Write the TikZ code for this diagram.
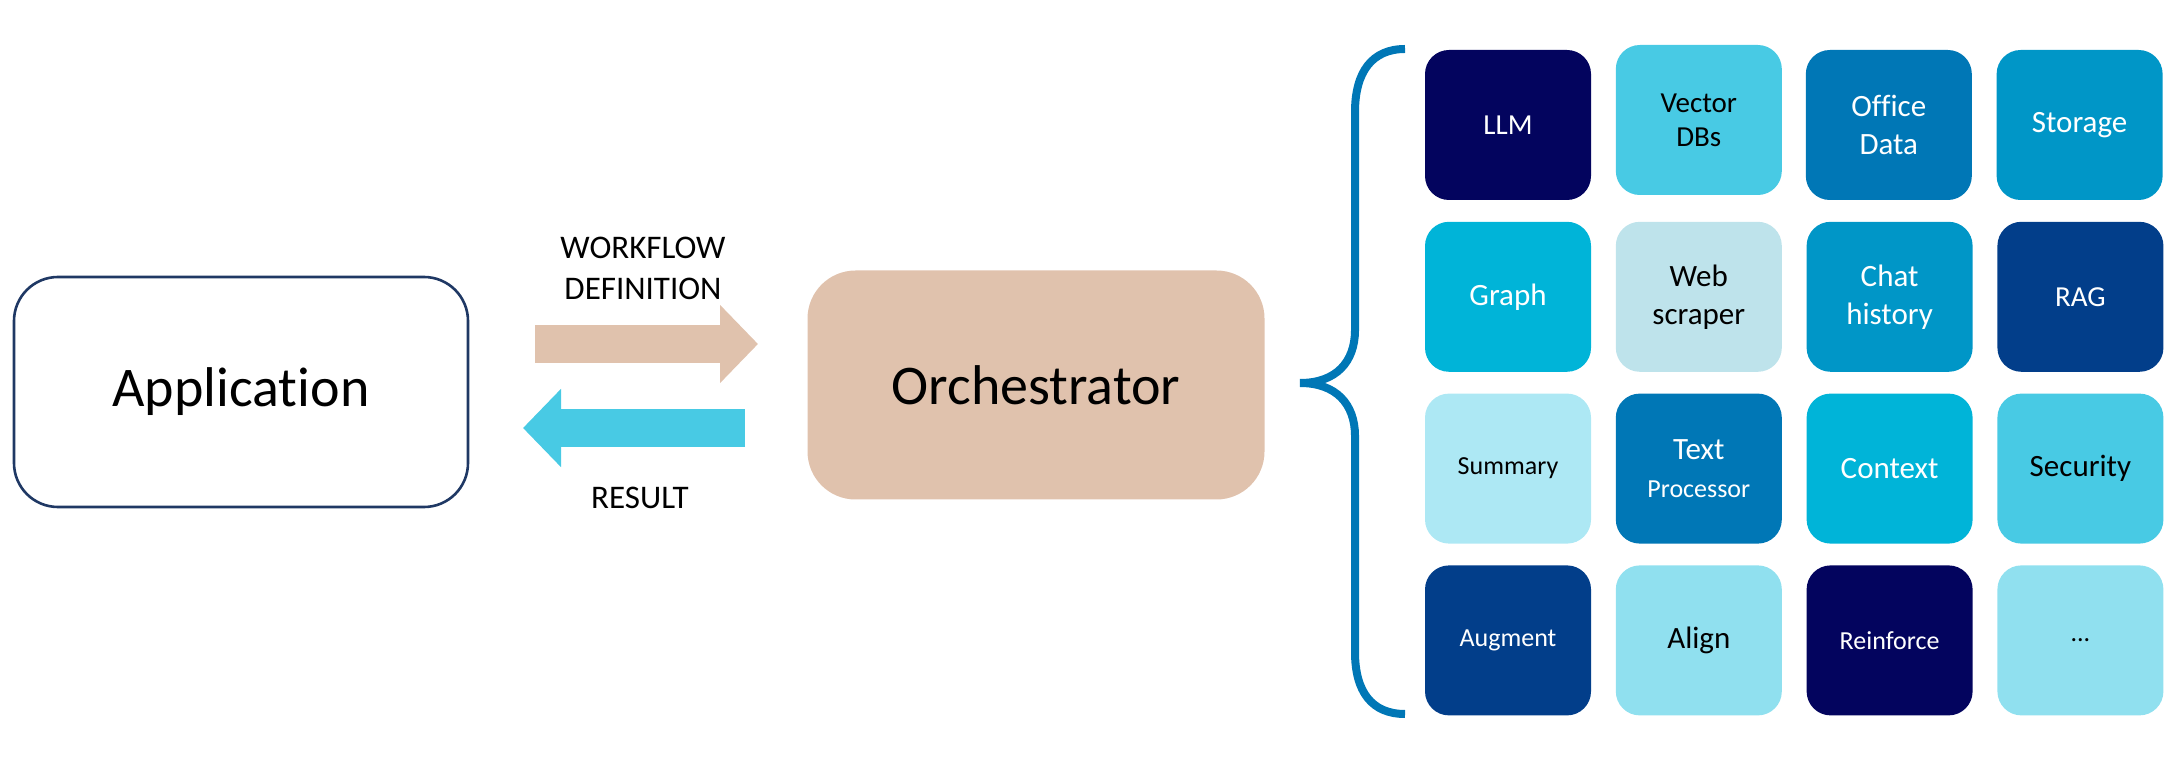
\documentclass[tikz,border=0pt]{standalone}
\usepackage{fontspec}
\setmainfont{Carlito}[Ligatures=NoCommon]
\usetikzlibrary{positioning}
\usetikzlibrary{arrows.meta}

\definecolor{appline}{HTML}{1F3864}
\definecolor{orchfill}{HTML}{E0C2AD}
\definecolor{resultblue}{HTML}{48CAE4}
\definecolor{bracecol}{HTML}{0077B6}
\definecolor{tileA}{HTML}{03045E}
\definecolor{tileB}{HTML}{023E8A}
\definecolor{tileC}{HTML}{0077B6}
\definecolor{tileD}{HTML}{0096C7}
\definecolor{tileE}{HTML}{00B4D8}
\definecolor{tileF}{HTML}{48CAE4}
\definecolor{tileG}{HTML}{90E0EF}
\definecolor{tileH}{HTML}{ADE8F4}
\definecolor{tileW}{HTML}{BEE3EB}

\begin{document}
\begin{tikzpicture}[x=0.5pt, y=-0.5pt,
  big/.style={font=\fontsize{28}{34}\selectfont},
  label/.style={font=\fontsize{16.5}{20.5}\selectfont, align=center},
  tile/.style={rounded corners=12pt, minimum width=83pt, minimum height=75pt,
    inner sep=0pt, align=center, font=\fontsize{15.5}{19}\selectfont},
  mid/.style={font=\fontsize{14.5}{17}\selectfont},
  small/.style={font=\fontsize{13}{16}\selectfont},
  flow/.style={line width=19pt, -{Triangle[length=19pt, width=38pt]}},
  node distance=10.5pt and 12pt]
\useasboundingbox (0,0) rectangle (2172,758);

\node (App) [big, draw=appline, line width=1.3pt, rounded corners=22pt,
  minimum width=227pt, minimum height=115pt] at (241,392) {Application};
\node (Orch) [big, fill=orchfill, rounded corners=24pt,
  minimum width=228.5pt, minimum height=114.5pt] at (1036,385) {Orchestrator};

% arrows between the two boxes
\coordinate (wf0) at (535,344);
\coordinate (wf1) at (758,344);
\coordinate (re0) at (745,428);
\coordinate (re1) at (523,428);
\draw[flow, orchfill] (wf0) -- (wf1);
\draw[flow, resultblue] (re0) -- (re1);
\node (WF) [label] at (643,268) {WORKFLOW\\DEFINITION};
\node (RE) [label] at (640,498) {RESULT};

% brace
\draw[bracecol, line width=4pt] (1405,49) .. controls (1372,49) and (1355,72) .. (1355,112)
  -- (1355,330) .. controls (1355,362) and (1336,383) .. (1300,383)
  .. controls (1336,383) and (1355,404) .. (1355,436)
  -- (1355,652) .. controls (1355,692) and (1372,714) .. (1405,714);

\node (A1) [tile, mid, fill=tileA, text=white] at (1508,125) {LLM};
\node (A2) [tile, mid, fill=tileF, right=of A1, yshift=2.5pt] {Vector\\DBs};
\node (A3) [tile, fill=tileC, text=white, right=of A1.east, xshift=95pt] {Office\\Data};
\node (A4) [tile, fill=tileD, text=white, right=of A3] {Storage};

\node (B1) [tile, fill=tileE, text=white, below=of A1] {Graph};
\node (B2) [tile, fill=tileW, right=of B1] {Web\\scraper};
\node (B3) [tile, fill=tileD, text=white, right=of B2] {Chat\\history};
\node (B4) [tile, mid, fill=tileB, text=white, right=of B3] {RAG};

\node (C1) [tile, small, fill=tileH, below=of B1] {Summary};
\node (C2) [tile, fill=tileC, text=white, right=of C1] {Text\\{\fontsize{13}{16}\selectfont Processor}};
\node (C3) [tile, fill=tileE, text=white, right=of C2] {Context};
\node (C4) [tile, fill=tileF, right=of C3] {Security};

\node (D1) [tile, small, fill=tileB, text=white, below=of C1] {Augment};
\node (D2) [tile, fill=tileG, right=of D1] {Align};
\node (D3) [tile, small, fill=tileA, text=white, right=of D2] {Reinforce};
\node (D4) [tile, small, fill=tileG, right=of D3] {...};
\end{tikzpicture}
\end{document}
